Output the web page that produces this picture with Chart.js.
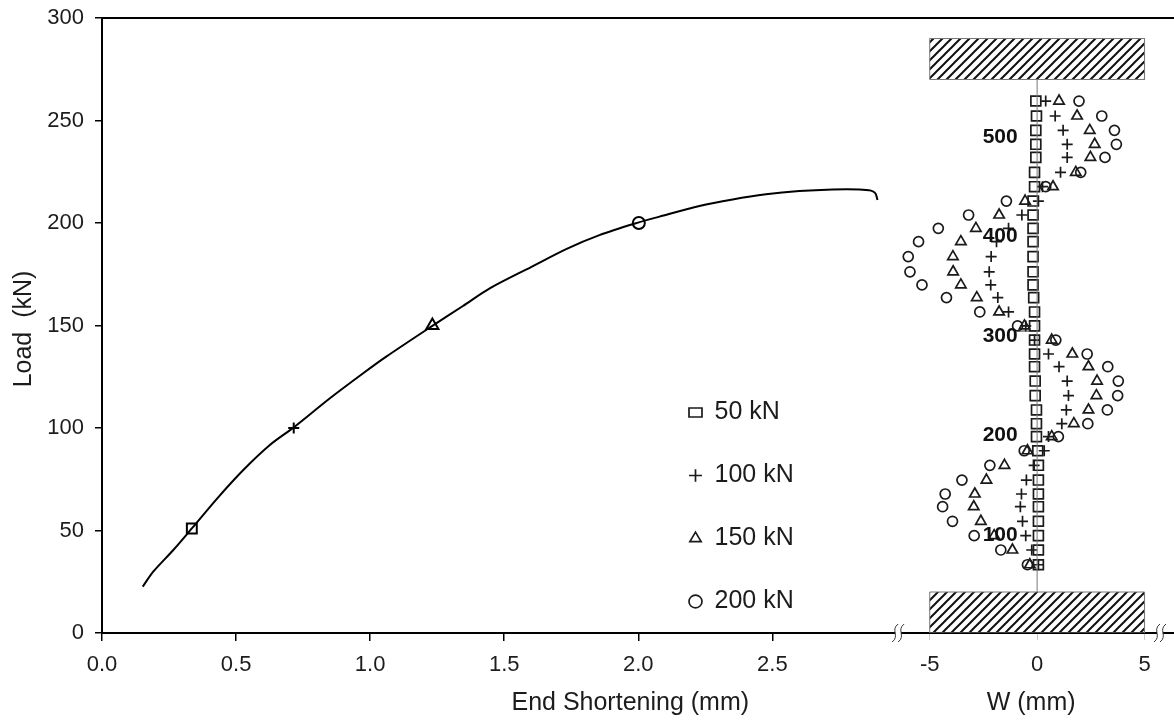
<!DOCTYPE html>
<html>
<head>
<meta charset="utf-8">
<title>Load vs End Shortening</title>
<script src="https://cdn.jsdelivr.net/npm/chart.js@4/dist/chart.umd.js"></script>
<style>
  html, body { margin: 0; padding: 0; background: #fff; }
  canvas { display: block; }
</style>
</head>
<body>
<canvas id="chart" width="1174" height="722"></canvas>
<script>
// load / end shortening curve
const curveShortening = [0.152, 0.191, 0.266, 0.335, 0.43, 0.527, 0.626, 0.715, 0.85, 0.974, 1.06, 1.232, 1.346, 1.446, 1.6, 1.731, 1.855, 2.002, 2.079, 2.228, 2.352, 2.476, 2.6, 2.725, 2.824, 2.868, 2.884, 2.892];
const curveLoad = [22.6, 29.9, 40.5, 51, 65.7, 79.5, 91.7, 100.3, 114.5, 126.7, 134.8, 149.8, 159.5, 168.1, 178.5, 187.3, 194.1, 200.3, 203.1, 208.3, 211.5, 214, 215.6, 216.4, 216.4, 215.8, 214.5, 211.2];
const markerShortening = [0.335, 0.715, 1.232, 2.002];
const markerLoad = [51, 100, 150, 200];
const markerStyles = ["rect", "cross", "triangle", "circle"];

// lateral deflection along the column height, one row per gauge
const rowHeights = [259.5, 252.2, 245.2, 238.4, 232, 224.7, 217.7, 210.7, 203.9, 197.4, 190.9, 183.6, 176.2, 169.8, 163.6, 156.6, 149.8, 142.9, 136.1, 129.9, 122.9, 115.8, 108.8, 102.1, 95.8, 88.9, 81.8, 74.6, 67.8, 61.6, 54.5, 47.5, 40.5, 33.3];
const w50 = [-0.06, -0.03, -0.06, -0.06, -0.06, -0.12, -0.12, -0.19, -0.19, -0.19, -0.19, -0.19, -0.19, -0.19, -0.16, -0.12, -0.12, -0.12, -0.12, -0.12, -0.09, -0.09, -0.03, -0.03, -0.03, 0.03, 0.06, 0.06, 0.06, 0.06, 0.06, 0.06, 0.06, 0.06];
const w100 = [0.4, 0.84, 1.21, 1.4, 1.4, 1.09, 0.25, 0.06, -0.71, -1.33, -1.89, -2.14, -2.23, -2.16, -1.83, -1.33, -0.53, -0.12, 0.53, 1.02, 1.4, 1.46, 1.36, 1.15, 0.53, 0.33, -0.14, -0.5, -0.73, -0.78, -0.68, -0.53, -0.25, 0.06];
const w150 = [1.02, 1.86, 2.45, 2.68, 2.48, 1.8, 0.74, -0.56, -1.77, -2.85, -3.55, -3.92, -3.91, -3.55, -2.81, -1.77, -0.59, 0.68, 1.64, 2.39, 2.79, 2.76, 2.39, 1.71, 0.68, -0.45, -1.52, -2.36, -2.9, -2.95, -2.62, -2.0, -1.15, -0.34];
const w200 = [1.95, 3.01, 3.6, 3.69, 3.16, 2.03, 0.4, -1.43, -3.19, -4.6, -5.52, -6.0, -5.92, -5.36, -4.22, -2.67, -0.91, 0.87, 2.33, 3.29, 3.78, 3.75, 3.27, 2.36, 0.99, -0.6, -2.2, -3.5, -4.28, -4.4, -3.94, -2.93, -1.69, -0.45];

const seriesLabels = ["50 kN", "100 kN", "150 kN", "200 kN"];
const seriesStyles = ["rect", "cross", "triangle", "circle"];
const seriesRadius = [7, 5.5, 6, 5];
const seriesW = [w50, w100, w150, w200];

// gauge level labels next to the column
const levelLabels = ["500", "400", "300", "200", "100"];
const levelHeights = [242, 193.7, 145, 96.6, 47.5];
const levelW = -1.72;

// short dash beside the 300 label
const dashW = [-0.9, 0.05];
const dashHeight = 147.3;

const shorteningTicks = [0, 0.5, 1, 1.5, 2, 2.5];
const wTicks = [-5, 0, 5];
const loadTicks = [0, 50, 100, 150, 200, 250, 300];
const axisBreaksW = [-6.47, 5.72];

const FONT = "'Liberation Sans', Arial, sans-serif";
const TEXT = "#1c1c1c";
// chart.js keeps 8px free on the right here, so the scales end at 1166
const PLOT = { left: 102, right: 1166, top: 18, bottom: 633 };
const mmPerPx = 1 / 268.4;
const wPerPx = 1 / 21.5;
const wZeroPx = 1038;

// diagonal hatch used by the two platens
const makeHatch = () => {
  const tile = document.createElement("canvas");
  tile.width = 9;
  tile.height = 9;
  const c = tile.getContext("2d");
  c.strokeStyle = "#111";
  c.lineWidth = 2;
  c.beginPath();
  c.moveTo(-2, 11);
  c.lineTo(11, -2);
  c.moveTo(-2, 2);
  c.lineTo(2, -2);
  c.moveTo(7, 11);
  c.lineTo(11, 7);
  c.stroke();
  return c.createPattern(tile, "repeat");
};

const platen = (label, yMin, yMax, hatch) => ({
  label,
  xAxisID: "xW",
  showLine: true,
  pointRadius: 0,
  borderColor: "#777",
  borderWidth: 1,
  backgroundColor: hatch,
  fill: "shape",
  data: [
    { x: -5, y: yMin },
    { x: -5, y: yMax },
    { x: 5, y: yMax },
    { x: 5, y: yMin },
    { x: -5, y: yMin },
  ],
});

const fixedTicks = (values) => (scale) => {
  scale.ticks = values.map((value) => ({ value }));
};

// tick label margins would shrink the plot area, the axes here must stay put
const noMargins = (scale) => {
  scale.paddingLeft = 0;
  scale.paddingRight = 0;
  scale.paddingTop = 0;
  scale.paddingBottom = 0;
};

const annotationsPlugin = {
  id: "annotations",
  afterLayout(chart) {
    // the legend sits inside the plot, between the two panels
    const legend = chart.legend;
    legend.left = 651;
    legend.top = 362;
    legend.right = 860;
    legend.bottom = 715;
  },
  afterDraw(chart) {
    const { ctx, chartArea, scales } = chart;
    ctx.save();
    // top border and axis, both run on to the edge of the picture
    ctx.strokeStyle = "#000";
    ctx.lineWidth = 2;
    ctx.beginPath();
    ctx.moveTo(chartArea.left, chartArea.top);
    ctx.lineTo(chart.width, chartArea.top);
    ctx.moveTo(chartArea.right - 1, chartArea.bottom);
    ctx.lineTo(chart.width, chartArea.bottom);
    ctx.stroke();
    // axis break marks
    axisBreaksW.forEach((w) => {
      const x = scales.xW.getPixelForValue(w);
      const y = chartArea.bottom;
      ctx.fillStyle = "#fff";
      ctx.fillRect(x - 3, y - 2, 6, 4);
      ctx.strokeStyle = "#333";
      ctx.lineWidth = 1;
      [-3, 3].forEach((dx) => {
        ctx.beginPath();
        ctx.moveTo(x + dx - 3, y + 9);
        ctx.bezierCurveTo(x + dx + 5, y + 3, x + dx - 5, y - 3, x + dx + 3, y - 9);
        ctx.stroke();
      });
    });
    // level labels
    ctx.fillStyle = "#111";
    ctx.font = `bold 21px ${FONT}`;
    ctx.textAlign = "center";
    ctx.textBaseline = "middle";
    levelLabels.forEach((text, i) => {
      ctx.fillText(text, scales.xW.getPixelForValue(levelW), scales.y.getPixelForValue(levelHeights[i]));
    });
    // axis titles
    ctx.fillStyle = TEXT;
    ctx.font = `25px ${FONT}`;
    ctx.fillText("End Shortening (mm)", scales.x.getPixelForValue(1.97), 703);
    ctx.fillText("W (mm)", scales.xW.getPixelForValue(-0.28), 703);
    ctx.translate(24, 329);
    ctx.rotate(-Math.PI / 2);
    ctx.fillText("Load  (kN)", 0, 0);
    ctx.restore();
  },
};

const hatch = makeHatch();

new Chart(document.getElementById("chart"), {
  type: "scatter",
  plugins: [annotationsPlugin],
  data: {
    datasets: [
      {
        label: "Load curve",
        showLine: true,
        tension: 0.3,
        pointRadius: 0,
        borderColor: "#000",
        borderWidth: 2,
        data: curveShortening.map((x, i) => ({ x, y: curveLoad[i] })),
      },
      {
        label: "Curve markers",
        pointStyle: markerStyles,
        pointRadius: [7, 5.5, 7, 6],
        pointBorderColor: "#000",
        pointBackgroundColor: "transparent",
        pointBorderWidth: 2,
        data: markerShortening.map((x, i) => ({ x, y: markerLoad[i] })),
      },
      platen("Top platen", 270, 290, hatch),
      platen("Bottom platen", 0, 20, hatch),
      {
        label: "Column axis",
        xAxisID: "xW",
        showLine: true,
        pointRadius: 0,
        borderColor: "#777",
        borderWidth: 1,
        data: [{ x: 0, y: 20 }, { x: 0, y: 270 }],
      },
      {
        label: "Dash",
        xAxisID: "xW",
        showLine: true,
        pointRadius: 0,
        borderColor: "#333",
        borderWidth: 1,
        data: dashW.map((x) => ({ x, y: dashHeight })),
      },
      ...seriesLabels.map((label, s) => ({
        label,
        xAxisID: "xW",
        pointStyle: seriesStyles[s],
        pointRadius: seriesRadius[s],
        pointBorderColor: "#1a1a1a",
        pointBackgroundColor: "transparent",
        backgroundColor: "transparent",
        borderColor: "#1a1a1a",
        pointBorderWidth: 1.7,
        data: rowHeights.map((y, i) => ({ x: seriesW[s][i], y })),
      })),
    ],
  },
  options: {
    responsive: false,
    animation: false,
    devicePixelRatio: 1,
    layout: { padding: { left: 0, right: 0, top: PLOT.top, bottom: 722 - PLOT.bottom } },
    plugins: {
      tooltip: { enabled: false },
      legend: {
        position: "chartArea",
        align: "start",
        labels: {
          usePointStyle: true,
          boxHeight: 9,
          pointStyleWidth: 13,
          padding: 38,
          color: TEXT,
          font: { family: FONT, size: 25 },
          filter: (item) => seriesLabels.includes(item.text),
        },
      },
    },
    scales: {
      x: {
        type: "linear",
        position: { y: 0 },
        min: 0,
        max: (PLOT.right - PLOT.left) * mmPerPx,
        afterBuildTicks: fixedTicks(shorteningTicks),
        afterFit: noMargins,
        border: { display: true, color: "#000", width: 2 },
        grid: { drawOnChartArea: false, color: "#000", tickLength: 7, lineWidth: 1.5 },
        ticks: {
          autoSkip: false,
          maxRotation: 0,
          padding: 12,
          color: TEXT,
          font: { family: FONT, size: 22 },
          callback: (value) => Number(value).toFixed(1),
        },
      },
      xW: {
        type: "linear",
        position: { y: 0 },
        min: (PLOT.left - wZeroPx) * wPerPx,
        max: (PLOT.right - wZeroPx) * wPerPx,
        afterBuildTicks: fixedTicks(wTicks),
        afterFit: noMargins,
        border: { display: false },
        grid: { drawOnChartArea: false, color: "#ccc", tickLength: 7, lineWidth: 1 },
        ticks: {
          autoSkip: false,
          maxRotation: 0,
          padding: 12,
          color: TEXT,
          font: { family: FONT, size: 22 },
          callback: (value) => String(value),
        },
      },
      y: {
        type: "linear",
        position: "left",
        min: 0,
        max: 300,
        afterFit: (scale) => {
          scale.width = PLOT.left;
          noMargins(scale);
        },
        afterBuildTicks: fixedTicks(loadTicks),
        border: { display: true, color: "#000", width: 2 },
        grid: { drawOnChartArea: false, color: "#000", tickLength: 7, lineWidth: 1.5 },
        ticks: {
          padding: 11,
          color: TEXT,
          font: { family: FONT, size: 22 },
        },
      },
    },
  },
});
</script>
</body>
</html>
